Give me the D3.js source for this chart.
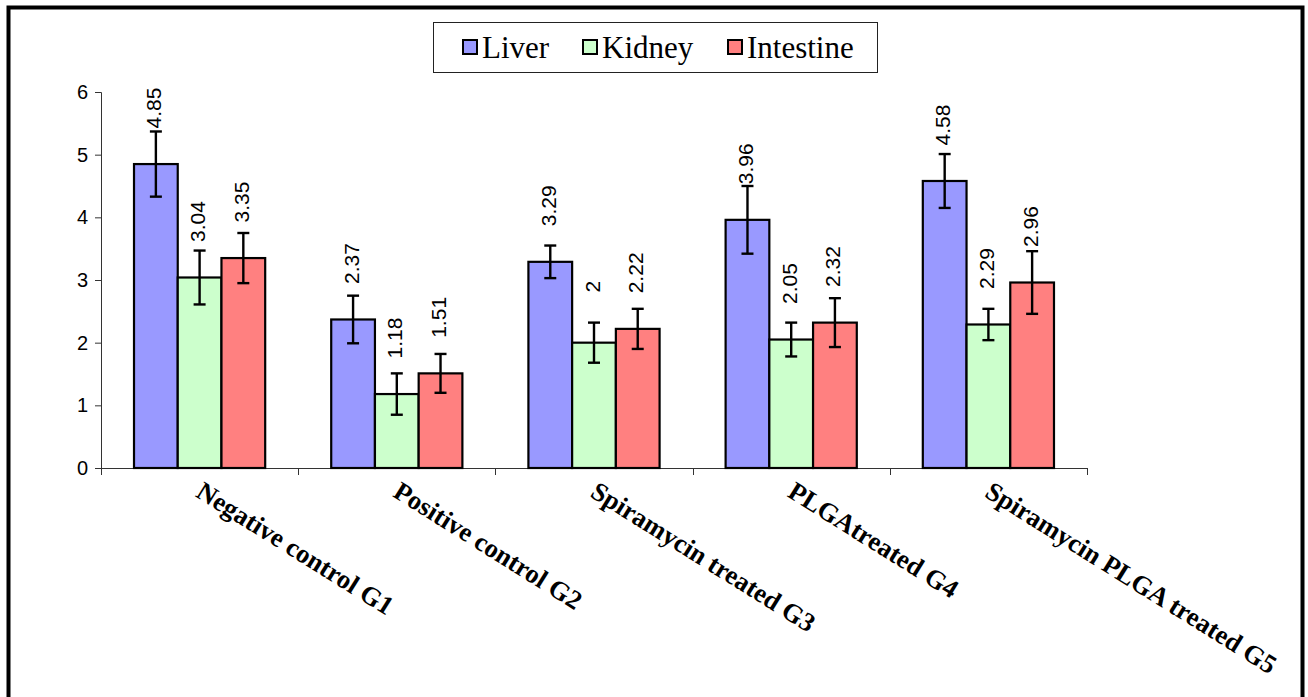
<!DOCTYPE html>
<html>
<head>
<meta charset="utf-8">
<script src="https://cdn.jsdelivr.net/npm/d3@7"></script>
<style>
  body { margin: 0; background: #fff; }
  svg { display: block; }
</style>
</head>
<body>
<div id="chart"></div>
<script>
const width = 1308, height = 697;

const groups = ["Negative control G1", "Positive control G2", "Spiramycin treated G3", "PLGAtreated G4", "Spiramycin PLGA treated G5"];
const series = ["Liver", "Kidney", "Intestine"];
const colors = ["#9999ff", "#ccffcc", "#ff8080"];
const liver = [4.85, 2.37, 3.29, 3.96, 4.58];
const kidney = [3.04, 1.18, 2, 2.05, 2.29];
const intestine = [3.35, 1.51, 2.22, 2.32, 2.96];
const liverErr = [0.52, 0.38, 0.26, 0.54, 0.43];
const kidneyErr = [0.43, 0.33, 0.32, 0.27, 0.25];
const intestineErr = [0.40, 0.31, 0.32, 0.39, 0.50];
const yTicks = [0, 1, 2, 3, 4, 5, 6];

const values = [liver, kidney, intestine];
const errs = [liverErr, kidneyErr, intestineErr];

let rows = [];
groups.forEach((g, i) => {
    series.forEach((s, j) => {
        rows.push({ group: g, series: s, value: values[j][i], err: errs[j][i], color: colors[j] });
    });
});

const svg = d3.select("#chart").append("svg")
    .attr("width", width)
    .attr("height", height);

// outer frame
svg.append("rect")
    .attr("x", 8.5).attr("y", 7.5)
    .attr("width", 1294).attr("height", 720)
    .attr("fill", "none")
    .attr("stroke", "#000")
    .attr("stroke-width", 4);

const x0 = d3.scaleBand().domain(groups).range([101, 1087]).padding(0);
const x1 = d3.scaleBand().domain(series).range([0, x0.bandwidth()]).paddingInner(0).paddingOuter(0.755);
const y = d3.scaleLinear().domain([0, 6]).range([468, 92]);

// y axis
const yAxis = svg.append("g")
    .attr("transform", "translate(101,0)")
    .call(d3.axisLeft(y).tickValues(yTicks).tickSize(6).tickPadding(7).tickFormat(d3.format("d")));
yAxis.select(".domain").attr("stroke", "#333");
yAxis.selectAll(".tick line").attr("stroke", "#333");
yAxis.selectAll("text")
    .attr("font-family", "Liberation Sans, Arial, sans-serif")
    .attr("font-size", 20)
    .attr("fill", "#000");

// x axis: line + ticks at category boundaries
const xAxis = svg.append("g")
    .attr("transform", "translate(0,468)")
    .call(d3.axisBottom(x0).tickSize(0).tickFormat(""));
xAxis.select(".domain").attr("stroke", "#333").attr("d", "M95,0.5H1087.5");
const bounds = groups.map(g => x0(g)).concat([x0.range()[1]]);
svg.append("g").selectAll("line")
    .data(bounds)
    .enter().append("line")
    .attr("x1", d => Math.round(d) + 0.5).attr("x2", d => Math.round(d) + 0.5)
    .attr("y1", 468).attr("y2", 475)
    .attr("stroke", "#333");

// bars
const barG = svg.append("g");
barG.selectAll("rect")
    .data(rows)
    .enter().append("rect")
    .attr("x", d => x0(d.group) + x1(d.series))
    .attr("y", d => y(d.value))
    .attr("width", x1.bandwidth())
    .attr("height", d => y(0) - y(d.value))
    .attr("fill", d => d.color)
    .attr("stroke", "#000")
    .attr("stroke-width", 2.2);

// error bars
const errG = svg.append("g").attr("stroke", "#000").attr("stroke-width", 2.4);
rows.forEach(d => {
    const cx = x0(d.group) + x1(d.series) + x1.bandwidth() / 2;
    errG.append("line")
        .attr("x1", cx).attr("x2", cx)
        .attr("y1", y(d.value + d.err)).attr("y2", y(d.value - d.err));
    [d.value + d.err, d.value - d.err].forEach(v => {
        errG.append("line")
            .attr("x1", cx - 6).attr("x2", cx + 6)
            .attr("y1", y(v)).attr("y2", y(v));
    });
});

// value labels
svg.append("g").selectAll("text")
    .data(rows)
    .enter().append("text")
    .attr("transform", d => {
        const cx = x0(d.group) + x1(d.series) + x1.bandwidth() / 2 - 2;
        return `translate(${cx},${y(d.value) - 56}) rotate(-90)`;
    })
    .attr("text-anchor", "middle")
    .attr("dominant-baseline", "central")
    .attr("font-family", "Liberation Sans, Arial, sans-serif")
    .attr("font-size", 21)
    .text(d => d.value);

// category labels
svg.append("g").selectAll("text")
    .data(groups)
    .enter().append("text")
    .attr("transform", d => `translate(${x0(d) + x0.bandwidth() / 2 - 5},${496}) rotate(32)`)
    .attr("text-anchor", "start")
    .attr("font-family", "Liberation Serif, Times New Roman, serif")
    .attr("font-weight", "bold")
    .attr("font-size", 26.5)
    .text(d => d);

// legend
const legend = svg.append("g");
legend.append("rect")
    .attr("x", 433.5).attr("y", 22.5)
    .attr("width", 444).attr("height", 50)
    .attr("fill", "#fff")
    .attr("stroke", "#222")
    .attr("stroke-width", 1);
const legendX = [462, 582, 727];
series.forEach((s, i) => {
    legend.append("rect")
        .attr("x", legendX[i] + 1).attr("y", 40)
        .attr("width", 14).attr("height", 14)
        .attr("fill", colors[i])
        .attr("stroke", "#000")
        .attr("stroke-width", 2);
    legend.append("text")
        .attr("x", legendX[i] + 20).attr("y", 58)
        .attr("font-family", "Liberation Serif, Times New Roman, serif")
        .attr("font-size", 31)
        .text(s);
});
</script>
</body>
</html>
